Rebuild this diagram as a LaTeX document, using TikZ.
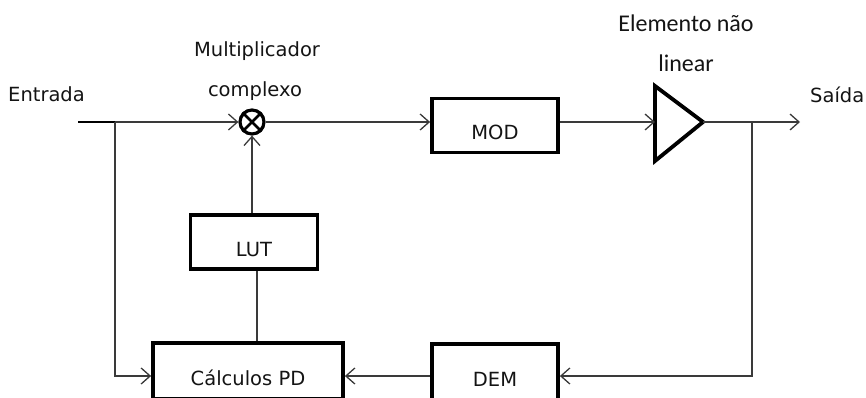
\documentclass[tikz,border=0pt]{standalone}
\usepackage{fontspec}
\setmainfont{DejaVu Sans}
\newfontfamily\calib{Carlito}
\usetikzlibrary{arrows.meta}
\definecolor{linec}{HTML}{3A3A3A}
\definecolor{txtc}{HTML}{141414}
\begin{document}
\begin{tikzpicture}[x=1pt,y=-1pt,
  conn/.style={draw=linec,line width=1.5pt},
  arr/.style={conn,-{Straight Barb[length=9pt,width=16pt,line width=1.3pt]}},
  blk/.style={draw=black,line width=3.8pt,rectangle,inner sep=0pt,
    text height=28pt,text depth=0pt,font=\fontsize{19.5}{23}\selectfont,text=txtc},
  lbl/.style={inner sep=0pt,anchor=base,font=\fontsize{19.5}{23}\selectfont,text=txtc},
  clbl/.style={inner sep=0pt,anchor=base,font=\calib\fontsize{24}{28}\selectfont,text=txtc}]
\useasboundingbox (0,0) rectangle (866,398);
\clip (0,0) rectangle (866,398);

% labels
\node[lbl,anchor=base west] (tin) at (8,102) {Entrada};
\node[lbl] (tmul1) at (257,57) {Multiplicador};
\node[lbl] (tmul2) at (255,97) {complexo};
\node[clbl] (tel1) at (686,32) {Elemento não};
\node[clbl] (tel2) at (686,72) {linear};
\node[lbl,anchor=base west] (tout) at (810,103) {Saída};

% blocks
\node[draw=black,line width=3.2pt,circle,minimum size=24pt,inner sep=0pt] (mult) at (252,122) {};
\draw[black,line width=2.6pt] (mult.north west) -- (mult.south east);
\draw[black,line width=2.6pt] (mult.north east) -- (mult.south west);
\node[blk,minimum width=126pt,minimum height=54pt] (mod) at (495,125.5) {MOD};
\node[blk,minimum width=127pt,minimum height=54pt] (lut) at (254,242) {LUT};
\node[blk,minimum width=190pt,minimum height=56pt] (calc) at (248,371) {Cálculos PD};
\node[blk,minimum width=126pt,minimum height=56pt] (dem) at (495,372) {DEM};

% nonlinear element
\coordinate (triA) at (655,86);
\coordinate (triB) at (655,161);
\coordinate (triC) at (703,122);
\draw[black,line width=3.8pt,line join=miter] (triA) -- (triC) -- (triB) -- cycle;
\coordinate (triIn) at (655,122);

% connectors
\coordinate (inL) at (78,122);
\coordinate (split1) at (115,122);
\coordinate (tap) at (752,122);
\coordinate (outEnd) at (800,122);
\coordinate (fbrow) at (0,376);

\draw[black,line width=2.6pt] (inL) -- (split1);
\draw[arr] (split1) -- (mult.west);
\draw[arr] (mult.south |- lut.north) -- (mult.south);
\draw[arr] (mult.east) -- (mod.west |- mult.east);
\draw[arr] (mod.east |- mult.east) -- (triIn);
\draw[arr] (triC) -- (outEnd);
\draw[conn] ([xshift=3pt]lut.south) -- ([xshift=3pt]lut.south |- calc.north);
\draw[arr] (split1) |- (calc.west |- fbrow);
\draw[arr] (tap) |- (dem.east |- fbrow);
\draw[arr] (dem.west |- fbrow) -- (calc.east |- fbrow);
\end{tikzpicture}
\end{document}
